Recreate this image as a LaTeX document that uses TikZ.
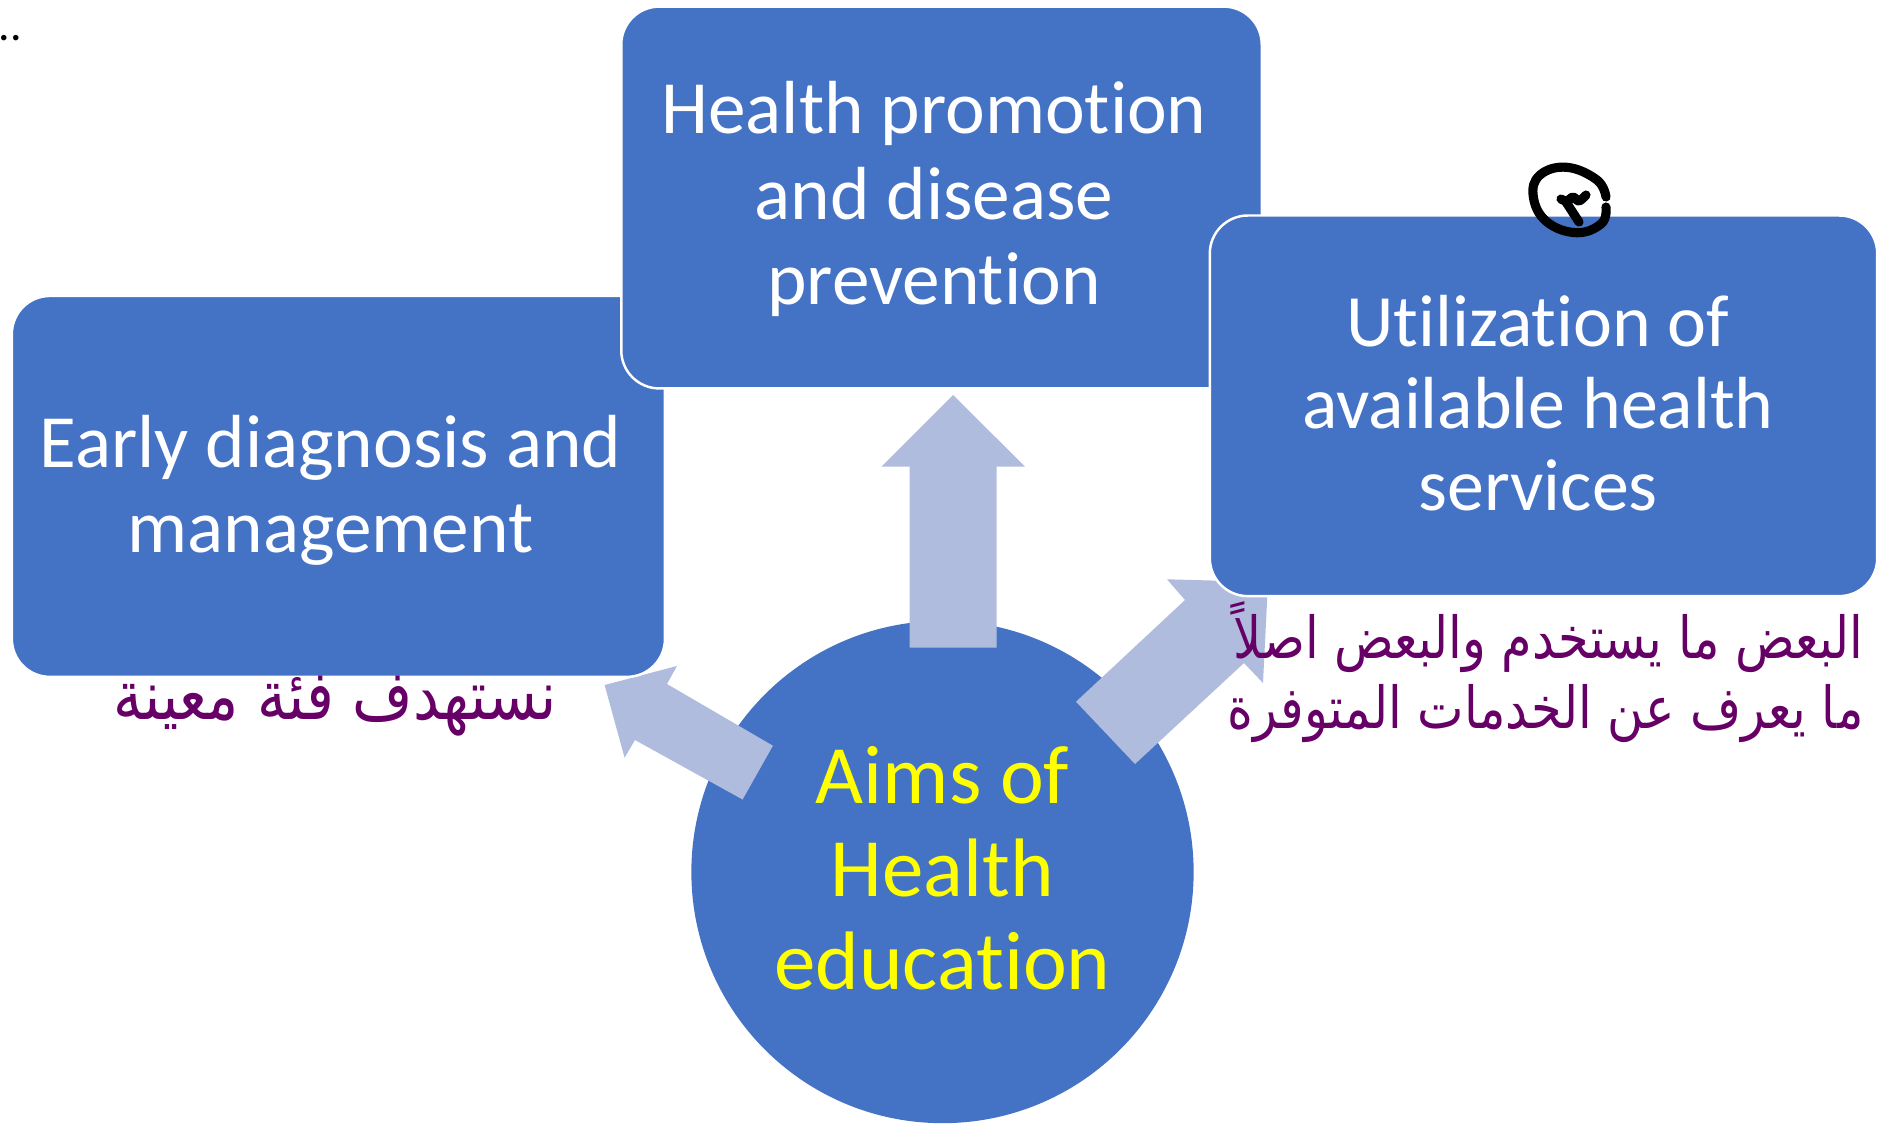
\documentclass[tikz,border=0pt]{standalone}
\usepackage{fontspec}
\setmainfont{Carlito}[Ligatures=NoCommon]
\newfontfamily\arabicfont[Script=Arabic, FakeStretch=0.85]{DejaVu Sans}
\TeXXeTstate=1
\definecolor{boxblue}{HTML}{4472C4}
\definecolor{arrowblue}{HTML}{B0BCDE}
\definecolor{aimyellow}{HTML}{FFFF00}
\definecolor{notepurple}{HTML}{660066}
\tikzset{
  aimbox/.style={rectangle, rounded corners=0.38cm, fill=boxblue, draw=white, line width=0.7pt, inner sep=0pt},
  boxtext/.style={text=white, align=center, inner sep=0pt, font=\fontsize{21.4}{24.2}\selectfont},
  blockarrow/.style={fill=arrowblue},
  note/.style={text=notepurple, inner sep=0pt},
  handmark/.style={draw=black, line width=2.6pt, line cap=round, line join=round},
}
\begin{document}
\begin{tikzpicture}[x=0.01cm, y=-0.01cm]
\useasboundingbox (0,0) rectangle (1878,1123);
\fill[white] (0,0) rectangle (1878,1123);
% dots
\node[anchor=base west, inner sep=0pt, font=\fontsize{13}{13}\selectfont] (dots) at (-2,40) {..};
% central circle
\node[circle, fill=boxblue, minimum size=5.02cm, inner sep=0pt] (aims) at (942.5,872) {};
% block arrows
\fill[blockarrow] (909.5,647.7) -- (909.5,466.7) -- (881.3,466.7) -- (953.2,395) -- (1025,466.7) -- (996.5,466.7) -- (996.5,647.7) -- cycle;
\fill[blockarrow] (772.9,745.7) -- (667,684) -- (676.9,666) -- (604.6,685) -- (624.6,757.7) -- (635,740) -- (742.6,799.5) -- cycle;
\fill[blockarrow] (1076,701.7) -- (1185,600) -- (1167,579.3) -- (1268,582) -- (1263,683) -- (1244,663) -- (1135,764) -- cycle;
% boxes
\node[aimbox, minimum width=6.527cm, minimum height=3.807cm] (early) at (338.4,486.4) {};
\node[aimbox, minimum width=6.401cm, minimum height=3.816cm] (promo) at (941.5,197.5) {};
\node[aimbox, minimum width=6.67cm, minimum height=3.804cm] (util) at (1543.5,405.8) {};
% box texts
\node[boxtext] (earlyText) at (330.5,490) {Early diagnosis and\\management};
\node[boxtext] (promoText) at (934,199) {Health promotion\\and disease\\prevention};
\node[boxtext, font=\fontsize{21}{23.4}\selectfont] (utilText) at (1538,403) {Utilization of\\available health\\services};
\node[align=center, inner sep=0pt, text=aimyellow, font=\fontsize{23.6}{26.4}\selectfont] (aimsText) at (942.5,868) {Aims of\\Health\\education};
% arabic notes
\node[note, font=\arabicfont\fontsize{19.5}{23}\selectfont] (noteLeft) at (335,706) {\beginR نستهدف فئة معينة\endR};
\node[note, align=right, anchor=east, font=\arabicfont\fontsize{16.5}{19.9}\selectfont] (noteRight) at (1864,672) {\beginR البعض ما يستخدم والبعض اصلاً\endR\\\beginR ما يعرف عن الخدمات المتوفرة\endR};
% handwritten circled mark
\draw[handmark] plot[smooth, tension=0.7] coordinates {(1606,197) (1597,180) (1567,167.3) (1540,175) (1533.3,196.7) (1546.7,221.7) (1576.7,232.7) (1601.7,223.3) (1606,207)};
\draw[handmark] plot[smooth, tension=0.6] coordinates {(1561,199) (1567,201) (1573,197) (1579,201) (1586,195)};
\draw[handmark] (1566,202) -- (1579,222);
\end{tikzpicture}
\end{document}
